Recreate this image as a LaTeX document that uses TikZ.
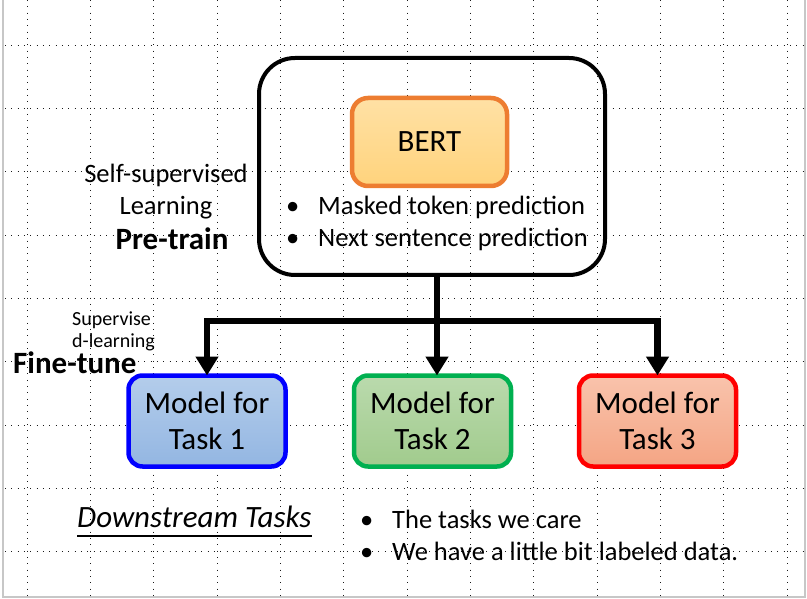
\documentclass[tikz,border=0pt]{standalone}
\usepackage{fontspec}
\setmainfont{Carlito}
\usetikzlibrary{arrows.meta}
\definecolor{bertline}{HTML}{ED7D31}
\definecolor{berttop}{HTML}{FFE1A5}
\definecolor{bertbot}{HTML}{FFD37C}
\definecolor{oneline}{HTML}{0000FF}
\definecolor{onetop}{HTML}{B4CDEB}
\definecolor{onebot}{HTML}{93B6E2}
\definecolor{twoline}{HTML}{00B050}
\definecolor{twotop}{HTML}{BADAAD}
\definecolor{twobot}{HTML}{A1CB8D}
\definecolor{threeline}{HTML}{FF0000}
\definecolor{threetop}{HTML}{F9C3AC}
\definecolor{threebot}{HTML}{F4A584}
\newcommand\bulitem{\makebox[32pt][l]{\textbullet}}
\tikzset{
  grid line/.style={draw=black!90, line width=0.9pt, dash pattern=on 0.9pt off 5.43pt},
  slide edge/.style={draw=black!22, line width=1.6pt},
  big text/.style={font=\fontsize{31}{36}\selectfont},
  body text/.style={font=\fontsize{26.5}{32}\selectfont, inner sep=0pt},
  taskbox/.style={rounded corners=14pt, line width=4.5pt, outer sep=0pt,
    minimum width=157pt, minimum height=91pt, align=center, inner sep=0pt, big text},
  flow/.style={line width=6.5pt, -{Triangle[width=22pt,length=19pt]}},
}
\begin{document}
\begin{tikzpicture}[x=1pt, y=-1pt]
\useasboundingbox (0,0) rectangle (807,599);
\foreach \i in {0,...,12}
  \draw[grid line] (27+63.33*\i,0) -- (27+63.33*\i,596);
\foreach \j in {0,...,8}
  \draw[grid line] (5,45+63.33*\j) -- (804,45+63.33*\j);
\draw[slide edge] (3,0) -- (3,597) -- (805,597) -- (805,0);

\node[draw, rounded corners=36pt, line width=4pt, minimum width=346pt, minimum height=217pt] (pretrain) at (432,166.5) {};
\node[draw=bertline, top color=berttop, bottom color=bertbot, rounded corners=16pt, line width=4.5pt,
  minimum width=155pt, minimum height=88pt, big text] (bert) at (429.5,142) {BERT};
\node[body text, anchor=base west] (masked) at (286,215) {\bulitem Masked token prediction};
\node[body text, anchor=base west] (nextsent) at (286,247) {\bulitem Next sentence prediction};

\node[body text, anchor=base] (selfsup) at (166,183) {Self-supervised};
\node[body text, anchor=base] (learning) at (166,215) {Learning};
\node[big text, inner sep=0pt, anchor=base] (pre) at (172,250) {\bfseries Pre-train};

\node[font=\fontsize{20}{22}\selectfont, inner sep=0pt, anchor=base west] (superv) at (72,325) {Supervise};
\node[font=\fontsize{20}{22}\selectfont, inner sep=0pt, anchor=base west] (dlearn) at (72,347) {d-learning};
\node[big text, inner sep=0pt, anchor=base west] (fine) at (13,373) {\bfseries Fine-tune};

\node[taskbox, draw=oneline, top color=onetop, bottom color=onebot] (m1) at (207,421) {Model for\\Task 1};
\node[taskbox, draw=twoline, top color=twotop, bottom color=twobot] (m2) at (432.5,421) {Model for\\Task 2};
\node[taskbox, draw=threeline, top color=threetop, bottom color=threebot] (m3) at (657.5,421) {Model for\\Task 3};

\coordinate (split) at (437,321);
\draw[flow] (pretrain.south -| split) -- (m2.north -| split);
\draw[flow] (split) -| (m1.north);
\draw[flow] (split) -| (m3.north);

\node[big text, inner sep=0pt, anchor=base west] (down) at (77,527) {\itshape Downstream Tasks};
\draw[line width=1.5pt] ([yshift=-9pt]down.base west) -- ([yshift=-9pt]down.base east);
\node[body text, anchor=base west] (care) at (360,528) {\bulitem The tasks we care};
\node[body text, anchor=base west] (little) at (360,560) {\bulitem We have a little bit labeled data.};
\end{tikzpicture}
\end{document}
